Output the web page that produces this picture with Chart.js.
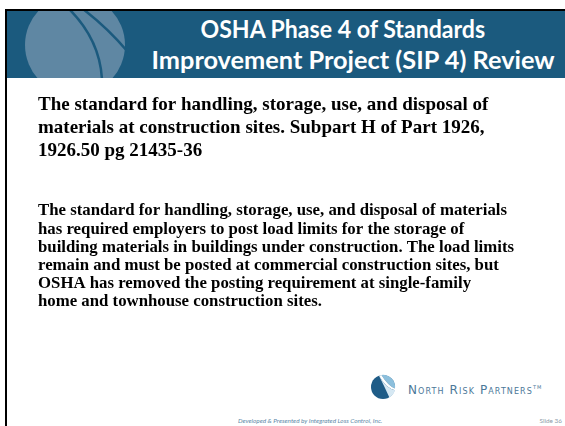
<!DOCTYPE html>
<html>
<head>
<meta charset="utf-8">
<script src="https://cdn.jsdelivr.net/npm/chart.js@4.4.1/dist/chart.umd.min.js"></script>
<style>
  body { margin: 0; width: 565px; height: 426px; background: #fff; overflow: hidden; position: relative; }
  .abs { position: absolute; }
  #title div { position: absolute; width: 558px; text-align: center; white-space: nowrap;
    font-family: Lato, "Open Sans", sans-serif; font-weight: 700; font-size: 24px; color: #fff; }
  #title span { display: inline-block; transform-origin: center; }
  #logoText { font-family: "DejaVu Sans", sans-serif; font-variant: small-caps; color: #4b7899;
    font-size: 12px; letter-spacing: 1.1px; white-space: nowrap; }
  #footer { font-family: Lato, sans-serif; font-style: italic; font-size: 6.4px; color: #5d88a8; white-space: nowrap; }
  #slideNo { font-family: Lato, sans-serif; font-size: 6.4px; color: #8c9aa8; white-space: nowrap; text-align: right; width: 60px; }
</style>
</head>
<body>
<script>
// slide texts
var titleLines = ['OSHA Phase 4 of Standards', 'Improvement Project (SIP 4) Review'];
var headingLines = [
  'The standard for handling, storage, use, and disposal of',
  'materials at construction sites. Subpart H of Part 1926,',
  '1926.50 pg 21435-36'
];
var bodyLines = [
  'The standard for handling, storage, use, and disposal of materials',
  'has required employers to post load limits for the storage of',
  'building materials in buildings under construction. The load limits',
  'remain and must be posted at commercial construction sites, but',
  'OSHA has removed the posting requirement at single-family',
  'home and townhouse construction sites.'
];
var logoName = 'North Risk Partners';
var footerText = 'Developed & Presented by Integrated Loss Control, Inc.';
var slideLabel = 'Slide 36';
</script>

<!-- frame + header band -->
<svg class="abs" style="left:0;top:0" width="565" height="426">
  <defs><clipPath id="band"><rect x="7" y="11" width="558" height="67"/></clipPath></defs>
  <rect x="5" y="9" width="560" height="2" fill="#000"/>
  <rect x="5" y="9" width="2" height="417" fill="#000"/>
  <rect x="7" y="11" width="558" height="67" fill="#1b5a7e"/>
  <g clip-path="url(#band)">
    <circle cx="75" cy="45" r="50" fill="#5f87a3"/>
    <path d="M66 6 Q100 38 102 80" stroke="#1b5a7e" stroke-width="2.5" fill="none"/>
    <path d="M79 6 Q106 26 128 52" stroke="#1b5a7e" stroke-width="2.5" fill="none"/>
  </g>
  <!-- logo icon -->
  <g transform="translate(383,387) scale(0.8)">
    <circle r="15" fill="#1f5c87"/>
    <path d="M-2 -15 A15 15 0 0 1 15 2 Q6 -2 -2 -15 Z" fill="#8cbfdc"/>
    <path d="M-2 -15 Q6 -2 15 2 L15 4 Q4 2 -5 -14 Z" fill="#fff"/>
    <path d="M-5 -14 Q4 2 15 4 A15 15 0 0 1 8 13 Q2 0 -5 -14 Z" fill="#d6e8f3"/>
  </g>
</svg>

<div id="title"></div>

<canvas id="slide" class="abs" style="left:0;top:80px" width="565" height="260"></canvas>

<div id="logoText" class="abs" style="left:408px;top:383px"></div>
<div id="footer" class="abs" style="left:238px;top:417px"></div>
<div id="slideNo" class="abs" style="left:502px;top:417px"></div>

<script>
// header title, each line squeezed to the Calibri width of the original
var titleBox = document.getElementById('title');
var titleTops = [14, 45];
var titleCenters = [343, 353];
var titleWidths = [285, 403];
titleLines.forEach(function (line, i) {
  var d = document.createElement('div');
  d.style.top = titleTops[i] + 'px';
  d.style.left = (titleCenters[i] - 279) + 'px';
  var s = document.createElement('span');
  s.textContent = line;
  d.appendChild(s);
  titleBox.appendChild(d);
  s.style.transform = 'scaleX(' + (titleWidths[i] / s.offsetWidth) + ')';
});

document.getElementById('logoText').innerHTML = logoName + '<sup style="font-size:5px">TM</sup>';
document.getElementById('footer').textContent = footerText;
document.getElementById('slideNo').textContent = slideLabel;

// the text body is drawn by Chart.js title + subtitle on an empty chart
var ctx = document.getElementById('slide').getContext('2d');
var slideChart = new Chart(ctx, {
  type: 'bar',
  data: { labels: [], datasets: [] },
  options: {
    responsive: false,
    animation: false,
    events: [],
    layout: { padding: { left: 38, right: 0, top: 0 } },
    scales: { x: { display: false }, y: { display: false } },
    plugins: {
      legend: { display: false },
      tooltip: { enabled: false },
      title: {
        display: true,
        text: headingLines,
        align: 'start',
        color: '#000',
        font: { family: '"Liberation Serif", serif', weight: 'bold', size: 19, lineHeight: '23px' },
        padding: { top: 14, bottom: 20 }
      },
      subtitle: {
        display: true,
        text: bodyLines,
        align: 'start',
        color: '#000',
        font: { family: '"Liberation Serif", serif', weight: 'bold', size: 16.8, lineHeight: '18.2px' },
        padding: { top: 19, bottom: 0 }
      }
    }
  }
});
</script>
</body>
</html>
